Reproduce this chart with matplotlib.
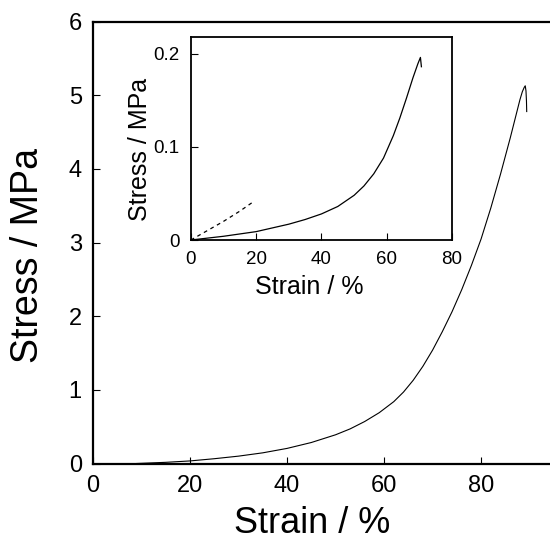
import matplotlib
matplotlib.use("Agg")
import matplotlib.pyplot as plt

plt.rcParams['font.family'] = ['Liberation Sans', 'DejaVu Sans']

# Main curve
strain_main = [9, 12, 15, 20, 25, 30, 35, 40, 45, 50, 53, 56, 59, 62, 64, 66, 68, 70, 72, 74, 76, 78, 80, 82, 84,
               86, 87, 88, 88.5, 88.9, 89.1, 89.25, 89.35, 89.4]
stress_main = [0, 0.008, 0.016, 0.035, 0.065, 0.1, 0.145, 0.205, 0.285, 0.39, 0.47, 0.57, 0.69, 0.84, 0.97, 1.13,
               1.32, 1.54, 1.79, 2.06, 2.36, 2.69, 3.05, 3.47, 3.93, 4.42, 4.68, 4.94, 5.05, 5.11, 5.13, 5.06, 4.92, 4.78]

# Inset solid curve
strain_in = [0, 5, 10, 15, 20, 25, 30, 35, 40, 45, 50, 53, 56, 59, 62, 64, 66, 68, 69.5, 70.3, 70.6]
stress_in = [0, 0.002, 0.004, 0.0065, 0.009, 0.013, 0.017, 0.022, 0.028, 0.036, 0.048, 0.058, 0.071, 0.088,
             0.112, 0.131, 0.152, 0.174, 0.189, 0.196, 0.186]

# Inset dashed curve
strain_dash = [0, 5, 10, 15, 18.7]
stress_dash = [0, 0.010, 0.020, 0.031, 0.040]

main_xticks = [0, 20, 40, 60, 80]
main_yticks = [0, 1, 2, 3, 4, 5, 6]
in_xticks = [0, 20, 40, 60, 80]
in_yticks = [0, 0.1, 0.2]
in_yticklabels = ['0', '0.1', '0.2']

fig = plt.figure(figsize=(5.5, 5.43), dpi=100)
ax = fig.add_axes([0.169, 0.1464, 0.831, 0.8136])
ax.plot(strain_main, stress_main, color='black', lw=0.8)
ax.set_xlim(0, 94.2)
ax.set_ylim(0, 6)
ax.set_xticks(main_xticks)
ax.set_yticks(main_yticks)
ax.spines['right'].set_visible(False)
for s in ['left', 'bottom', 'top']:
    ax.spines[s].set_linewidth(1.6)
ax.tick_params(direction='in', length=5, width=0.8, labelsize=17, pad=8)
ax.set_xlabel('Strain / %', fontsize=26, va='center', ha='center')
ax.set_ylabel('Stress / MPa', fontsize=27, va='center', ha='center')
ax.xaxis.set_label_coords(0.479, -0.136)
ax.yaxis.set_label_coords(-0.142, 0.47)

ins = fig.add_axes([0.347, 0.558, 0.475, 0.374])
ins.plot(strain_in, stress_in, color='black', lw=0.9)
ins.plot(strain_dash, stress_dash, color='black', lw=0.9, ls=(0, (3, 3)))
ins.set_xlim(0, 80)
ins.set_ylim(0, 0.218)
ins.set_xticks(in_xticks)
ins.set_yticks(in_yticks)
ins.set_yticklabels(in_yticklabels)
for s in ins.spines.values():
    s.set_linewidth(1.3)
ins.tick_params(direction='in', length=5, width=0.8, labelsize=13.5, pad=8)
ins.set_xlabel('Strain / %', fontsize=18, va='center', ha='center')
ins.set_ylabel('Stress / MPa', fontsize=18, va='center', ha='center')
ins.xaxis.set_label_coords(0.452, -0.23)
ins.yaxis.set_label_coords(-0.195, 0.448)

fig.savefig('out.png', dpi=100)
